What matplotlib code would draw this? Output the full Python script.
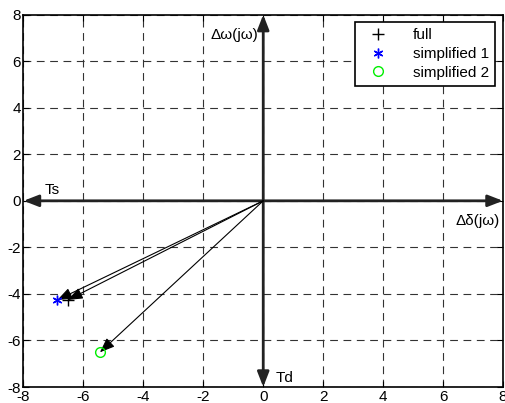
import matplotlib.pyplot as plt
from matplotlib.patches import FancyArrowPatch

plt.rcParams['font.family'] = ['Liberation Sans', 'DejaVu Sans']
plt.rcParams['axes.unicode_minus'] = False

# torque components (delta_delta, delta_omega)
full = (-6.52, -4.26)
simplified1 = (-6.87, -4.26)
simplified2 = (-5.45, -6.51)

ticks = [-8, -6, -4, -2, 0, 2, 4, 6, 8]

fig = plt.figure(figsize=(5.05, 4.03), dpi=100)
ax = fig.add_axes([0.0465, 0.0397, 0.9495, 0.924])

# grid
ax.set_xlim(-8, 8)
ax.set_ylim(-8, 8)
ax.set_xticks(ticks)
ax.set_yticks(ticks)
ax.grid(True, color='#333333', linestyle=(0, (7, 5)), linewidth=0.8)
ax.tick_params(direction='in', top=True, right=True, labelsize=11, length=4, pad=2)
for s in ax.spines.values():
    s.set_linewidth(1.2)

# axis arrows
head = '<|-|>,head_length=9,head_width=3.5'
ax.add_patch(FancyArrowPatch((-8, 0), (8, 0), arrowstyle=head, mutation_scale=1,
                             lw=2, color='#222222', zorder=3, shrinkA=0, shrinkB=0))
ax.add_patch(FancyArrowPatch((0, -8), (0, 8), arrowstyle=head, mutation_scale=1,
                             lw=2, color='#222222', zorder=3, shrinkA=0, shrinkB=0))

# vectors
for p in [full, simplified1, simplified2]:
    ax.add_patch(FancyArrowPatch((0, 0), p, arrowstyle='-|>,head_length=9,head_width=3.5',
                                 mutation_scale=1, lw=0.8, color='black', zorder=4,
                                 shrinkA=0, shrinkB=0))

ax.plot(*full, '+', color='black', ms=8, mew=1, label='full', zorder=5)
ax.plot(*simplified1, marker=(6, 2, 0), ls='none', color='blue', ms=7, mew=1,
        label='simplified 1', zorder=5)
ax.plot(*simplified2, 'o', mfc='none', mec='#00ee00', ms=7, mew=1, label='simplified 2', zorder=5)

ax.text(-1.75, 6.95, 'Δω(jω)', fontsize=11)
ax.text(6.4, -1.05, 'Δδ(jω)', fontsize=11)
ax.text(-7.3, 0.3, 'Ts', fontsize=11)
ax.text(0.4, -7.8, 'Td', fontsize=11)

leg = ax.legend(loc='upper right', fontsize=11, frameon=True, fancybox=False,
                edgecolor='black', framealpha=1, borderaxespad=0.5,
                handlelength=2.2, handletextpad=1.2, labelspacing=0.3)
leg.get_frame().set_linewidth(1.2)

fig.savefig('out.png', dpi=100)
